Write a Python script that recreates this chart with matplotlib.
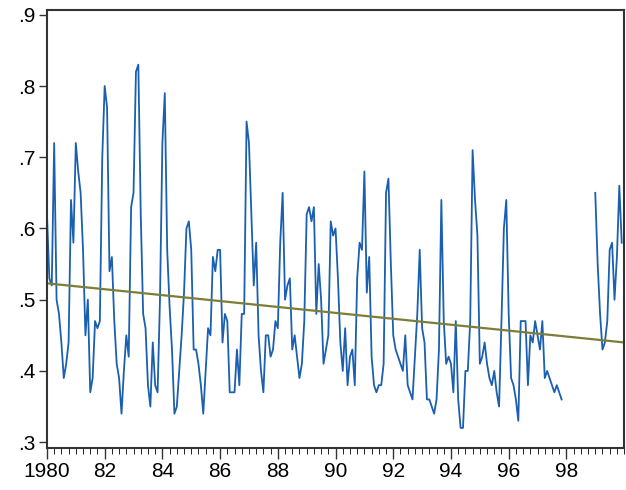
import numpy as np
import matplotlib
matplotlib.use("Agg")
import matplotlib.pyplot as plt
from matplotlib.ticker import MultipleLocator, FixedLocator

nan = np.nan
y1980 = [.62,.53,.52,.72,.50,.48,.44,.39,.41,.44,.64,.58]
y1981 = [.72,.68,.65,.57,.45,.50,.37,.39,.47,.46,.47,.70]
y1982 = [.80,.77,.54,.56,.47,.41,.39,.34,.40,.45,.42,.63]
y1983 = [.65,.82,.83,.62,.48,.46,.38,.35,.44,.38,.37,.50]
y1984 = [.72,.79,.57,.49,.43,.34,.35,.40,.45,.51,.60,.61]
y1985 = [.57,.43,.43,.41,.38,.34,.40,.46,.45,.56,.54,.57]
y1986 = [.57,.44,.48,.47,.37,.37,.37,.43,.38,.48,.48,.75]
y1987 = [.72,.62,.52,.58,.45,.40,.37,.45,.45,.42,.43,.47]
y1988 = [.46,.58,.65,.50,.52,.53,.43,.45,.42,.39,.41,.47]
y1989 = [.62,.63,.61,.63,.48,.55,.50,.41,.43,.45,.61,.59]
y1990 = [.60,.53,.44,.40,.46,.38,.42,.43,.38,.53,.58,.57]
y1991 = [.68,.51,.56,.42,.38,.37,.38,.38,.41,.65,.67,.55]
y1992 = [.45,.43,.42,.41,.40,.45,.38,.37,.36,.42,.48,.57]
y1993 = [.46,.44,.36,.36,.35,.34,.36,.43,.64,.47,.41,.42]
y1994 = [.41,.37,.47,.36,.32,.32,.40,.40,.47,.71,.64,.59]
y1995 = [.41,.42,.44,.41,.39,.38,.40,.37,.35,.47,.60,.64]
y1996 = [.48,.39,.38,.36,.33,.47,.47,.47,.38,.45,.44,.47]
y1997 = [.45,.43,.47,.39,.40,.39,.38,.37,.38,.37,.36,nan]
y1998 = [nan]*12
y1999 = [.65,.55,.48,.43,.44,.47,.57,.58,.50,.56,.66,.58]
series = np.array(y1980+y1981+y1982+y1983+y1984+y1985+y1986+y1987+y1988+y1989+
                  y1990+y1991+y1992+y1993+y1994+y1995+y1996+y1997+y1998+y1999)
start_year = 1980
trend_start, trend_end = 0.523, 0.440
xticklabels = ["1980","82","84","86","88","90","92","94","96","98"]
yticklabels = [".3",".4",".5",".6",".7",".8",".9"]

t = start_year + np.arange(len(series)) / 12.0

plt.rcParams['font.family'] = ['Liberation Sans', 'DejaVu Sans']
fig = plt.figure(figsize=(6.26, 4.9), dpi=100)
ax = fig.add_axes([0.075, 0.086, 0.922, 0.894])
ax.plot(t, series, color='#1a5fb0', lw=1.3)
ax.plot([1980, 2000], [trend_start, trend_end], color='#7d7d3a', lw=1.6)
ax.set_xlim(1980, 2000)
ax.set_ylim(0.292, 0.907)
ax.xaxis.set_major_locator(FixedLocator(np.arange(1980, 1999, 2)))
ax.set_xticklabels(xticklabels)
ax.xaxis.set_minor_locator(MultipleLocator(0.25))
ax.yaxis.set_major_locator(FixedLocator(np.arange(0.3, 0.91, 0.1)))
ax.set_yticklabels(yticklabels)
ax.tick_params(axis='both', labelsize=15, color='#333333', width=1, pad=2)
ax.tick_params(axis='x', which='major', length=8)
ax.tick_params(axis='x', which='minor', length=4)
ax.tick_params(axis='y', length=6)
for s in ax.spines.values():
    s.set_color('#333333'); s.set_linewidth(1.5)
fig.savefig('out.png', dpi=100)
